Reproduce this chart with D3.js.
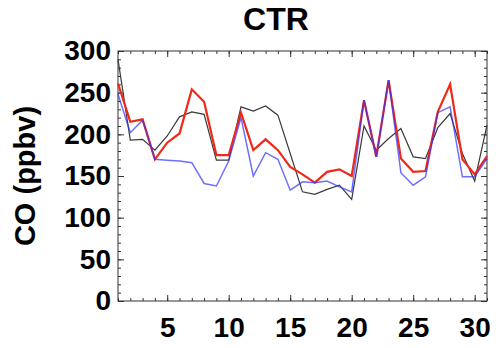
<!DOCTYPE html>
<html><head><meta charset="utf-8">
<script src="https://cdn.jsdelivr.net/npm/d3@7"></script>
<style>
html,body{margin:0;padding:0;background:#fff;}
text{font-family:"Liberation Sans",Arial,Helvetica,sans-serif;font-weight:bold;}
</style></head>
<body>
<svg id="chart" width="496" height="348"></svg>
<script>
const days = d3.range(1, 32);
const blackCO = [290,193,194,181,198,221,227,224,169,169,233,228,234,223,177,131,128,134,139,122,210,181,195,207,173,171,208,225,177,144,211];
const redCO   = [261,215,218,170,190,201,254,239,175,175,226,181,194,181,161,152,142,155,158,150,241,173,265,171,155,156,227,260,170,152,174];
const blueCO  = [248,202,217,170,169,168,166,141,138,168,220,150,178,170,133,143,142,144,137,131,241,173,265,154,139,149,226,233,149,149,171];
const xMajor = [5,10,15,20,25,30];
const yMajor = [0,50,100,150,200,250,300];
const yMinor = d3.range(0, 301, 10);
const title = "CTR";
const yTitle = "CO (ppbv)";

const svg = d3.select("#chart");
const L = 118, R = 487, T = 51, B = 301;
const x = d3.scaleLinear().domain([1, 31]).range([L, R]);
const y = d3.scaleLinear().domain([0, 300]).range([B, T]);

const axCol = "#333";
function styleAxis(g){ g.select(".domain").remove(); g.selectAll("line").attr("stroke", axCol).attr("stroke-width",1); }

// minor ticks
svg.append("g").attr("transform",`translate(0,${B})`).call(d3.axisBottom(x).tickValues(days).tickSize(-3).tickFormat("")).call(styleAxis);
svg.append("g").attr("transform",`translate(0,${T})`).call(d3.axisTop(x).tickValues(days).tickSize(-3).tickFormat("")).call(styleAxis);
svg.append("g").attr("transform",`translate(${L},0)`).call(d3.axisLeft(y).tickValues(yMinor).tickSize(-3).tickFormat("")).call(styleAxis);
svg.append("g").attr("transform",`translate(${R},0)`).call(d3.axisRight(y).tickValues(yMinor).tickSize(-3).tickFormat("")).call(styleAxis);
// major ticks
const xb = svg.append("g").attr("transform",`translate(0,${B})`).call(d3.axisBottom(x).tickValues(xMajor).tickSize(-6).tickPadding(16).tickFormat(d3.format("d"))).call(styleAxis);
svg.append("g").attr("transform",`translate(0,${T})`).call(d3.axisTop(x).tickValues(xMajor).tickSize(-6).tickFormat("")).call(styleAxis);
const yl = svg.append("g").attr("transform",`translate(${L},0)`).call(d3.axisLeft(y).tickValues(yMajor).tickSize(-6).tickPadding(7).tickFormat(d3.format("d"))).call(styleAxis);
svg.append("g").attr("transform",`translate(${R},0)`).call(d3.axisRight(y).tickValues(yMajor).tickSize(-6).tickFormat("")).call(styleAxis);
[xb, yl].forEach(g => g.selectAll("text").attr("fill","#000").style("font-size","28px").style("font-family",'"Liberation Sans",Arial,sans-serif').style("font-weight","bold"));

// frame
svg.append("rect").attr("x",L).attr("y",T).attr("width",R-L).attr("height",B-T).attr("fill","none").attr("stroke",axCol).attr("stroke-width",1);

const line = d3.line().x((d,i)=>x(days[i])).y(d=>y(d));
svg.append("path").datum(blackCO).attr("d",line).attr("fill","none").attr("stroke","#3a3a3a").attr("stroke-width",1.2);
svg.append("path").datum(redCO).attr("d",line).attr("fill","none").attr("stroke","#f02818").attr("stroke-width",2.2);
svg.append("path").datum(blueCO).attr("d",line).attr("fill","none").attr("stroke","#3030ff").attr("stroke-opacity",0.7).attr("stroke-width",1.5);

svg.append("text").attr("x",276).attr("y",30).attr("text-anchor","middle").style("font-size","32px").text(title);
svg.append("text").attr("transform","translate(35,176) rotate(-90)").attr("text-anchor","middle").style("font-size","29px").text(yTitle);
</script>
</body></html>
